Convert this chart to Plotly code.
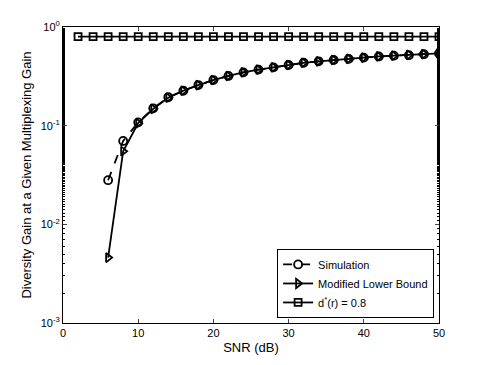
import plotly.graph_objects as go

# SNR points (dB)
snr_sim = [6, 8, 10, 12, 14, 16, 18, 20, 22, 24, 26, 28, 30, 32, 34, 36, 38, 40, 42, 44, 46, 48, 50]
gain_sim = [0.028, 0.070, 0.108, 0.150, 0.194, 0.226, 0.258, 0.290, 0.319, 0.347, 0.370,
            0.390, 0.412, 0.434, 0.449, 0.463, 0.475, 0.489, 0.503, 0.512, 0.518, 0.530, 0.540]

snr_bound = snr_sim
gain_bound = [0.0046, 0.055, 0.106, 0.148, 0.192, 0.226, 0.258, 0.290, 0.319, 0.347, 0.370,
              0.390, 0.412, 0.434, 0.449, 0.463, 0.475, 0.489, 0.503, 0.513, 0.522, 0.531, 0.541]

snr_ref = list(range(2, 51, 2))
gain_ref = [0.8] * len(snr_ref)

ytick_vals = [0.001, 0.01, 0.1, 1]
ytick_text = ['10<sup>-3</sup>', '10<sup>-2</sup>', '10<sup>-1</sup>', '10<sup>0</sup>']

fig = go.Figure()
fig.add_trace(go.Scatter(x=snr_sim, y=gain_sim, name='Simulation', mode='lines+markers',
                         line=dict(color='black', width=1.8, dash='dash'),
                         marker=dict(symbol='circle-open', size=8, color='black', line=dict(width=1.8))))
fig.add_trace(go.Scatter(x=snr_bound, y=gain_bound, name='Modified Lower Bound', mode='lines+markers',
                         line=dict(color='black', width=1.8),
                         marker=dict(symbol='triangle-right-open', size=8, color='black', line=dict(width=1.8))))
fig.add_trace(go.Scatter(x=snr_ref, y=gain_ref, name='d<sup>*</sup>(r) = 0.8', mode='lines+markers',
                         line=dict(color='black', width=1.8),
                         marker=dict(symbol='square-open', size=7, color='black', line=dict(width=1.8))))

# page body has an 8px margin, so the figure is a bit smaller and shifted
fig.update_layout(
    width=477, height=357,
    margin=dict(l=55, r=46, t=19, b=42),
    paper_bgcolor='white', plot_bgcolor='white',
    font=dict(family='Liberation Sans, Arial, sans-serif', size=11, color='black'),
    legend=dict(x=0.987, xanchor='right', y=0.017, yanchor='bottom',
                bordercolor='black', borderwidth=1, bgcolor='white',
                font=dict(size=11), tracegroupgap=0, itemwidth=30),
    showlegend=True,
)
fig.update_xaxes(range=[0, 50], tickvals=[0, 10, 20, 30, 40, 50], ticks='inside', ticklen=4,
                 showline=True, linecolor='black', linewidth=1, mirror='ticks', showgrid=False,
                 zeroline=False, automargin=False, title=dict(text='SNR (dB)', standoff=4))
fig.update_yaxes(type='log', range=[-3, 0], tickvals=ytick_vals, ticktext=ytick_text,
                 ticks='inside', ticklen=4, showline=True, linecolor='black', linewidth=1,
                 mirror='ticks', showgrid=False, zeroline=False, automargin=False,
                 minor=dict(ticks='inside', ticklen=2, tickcolor='black', showgrid=False),
                 title=dict(text='Diversity Gain at a Given Multiplexing Gain', standoff=6))

fig.write_html("out.html")
